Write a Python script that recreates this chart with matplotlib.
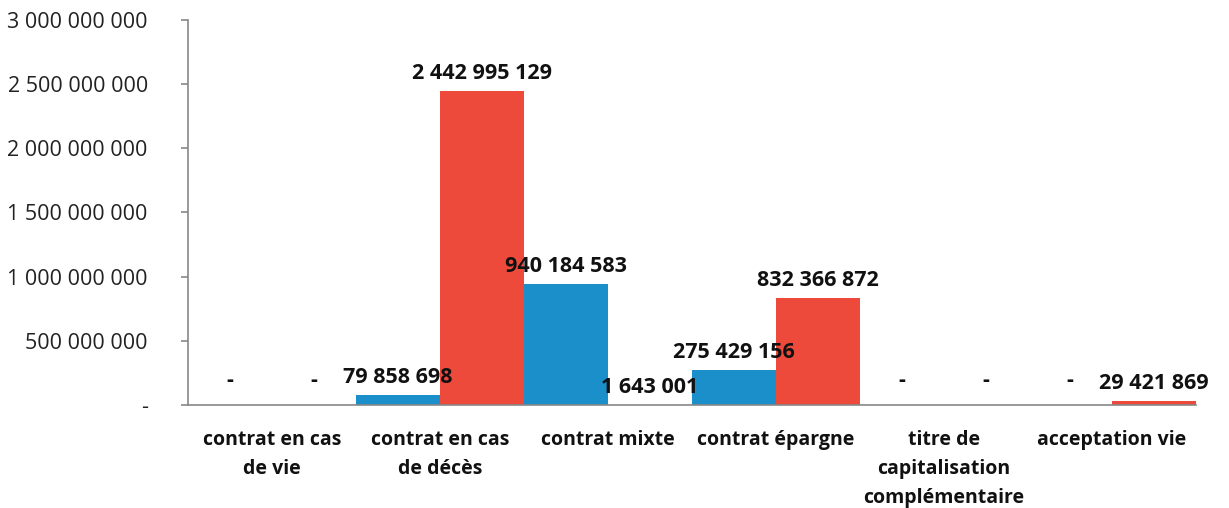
import matplotlib
matplotlib.use("Agg")
import matplotlib.pyplot as plt
import numpy as np

categories = ["contrat en cas\nde vie", "contrat en cas\nde décès", "contrat mixte",
              "contrat épargne", "titre de\ncapitalisation\ncomplémentaire", "acceptation vie"]
series_blue = [0, 79858698, 940184583, 275429156, 0, 0]
series_red = [0, 2442995129, 1643001, 832366872, 0, 29421869]
yticks = [0, 500000000, 1000000000, 1500000000, 2000000000, 2500000000, 3000000000]

BLUE = "#1a8fca"
RED = "#ee4a3c"
plt.rcParams['font.family'] = ['Open Sans', 'DejaVu Sans']


def fmt(v):
    if v == 0:
        return "-"
    return f"{int(v):,}".replace(",", " ")


fig = plt.figure(figsize=(12.29, 5.08), dpi=100)
ax = fig.add_axes([0.153, 0.203, 0.820, 0.758])
x = np.arange(len(categories))
w = 0.5
b1 = ax.bar(x - w / 2, series_blue, width=w, color=BLUE)
b2 = ax.bar(x + w / 2, series_red, width=w, color=RED)

for bars, vals in ((b1, series_blue), (b2, series_red)):
    for r, v in zip(bars, vals):
        off = 10 if v == 0 else 5
        ax.annotate(fmt(v), (r.get_x() + r.get_width() / 2, v), xytext=(0, off),
                    textcoords="offset points", ha="center", va="bottom",
                    fontsize=15.5, fontweight="bold", color="#111111")

ax.set_xlim(-0.5, len(categories) - 0.5)
ax.set_ylim(0, 3000000000)
ax.set_yticks(yticks)
ax.set_yticklabels([fmt(v) for v in yticks], fontsize=15.5, color="#222222")
ax.set_xticks(x)
ax.set_xticklabels(categories, fontsize=14, fontweight="bold", color="#111111",
                   linespacing=1.6, va="top")
ax.tick_params(axis="y", length=5, width=1.2, color="#888888", pad=24)
ax.tick_params(axis="x", length=0, pad=18)
for s in ("top", "right"):
    ax.spines[s].set_visible(False)
for s in ("left", "bottom"):
    ax.spines[s].set_color("#888888")
    ax.spines[s].set_linewidth(1.2)

fig.savefig("out.png", dpi=100)
